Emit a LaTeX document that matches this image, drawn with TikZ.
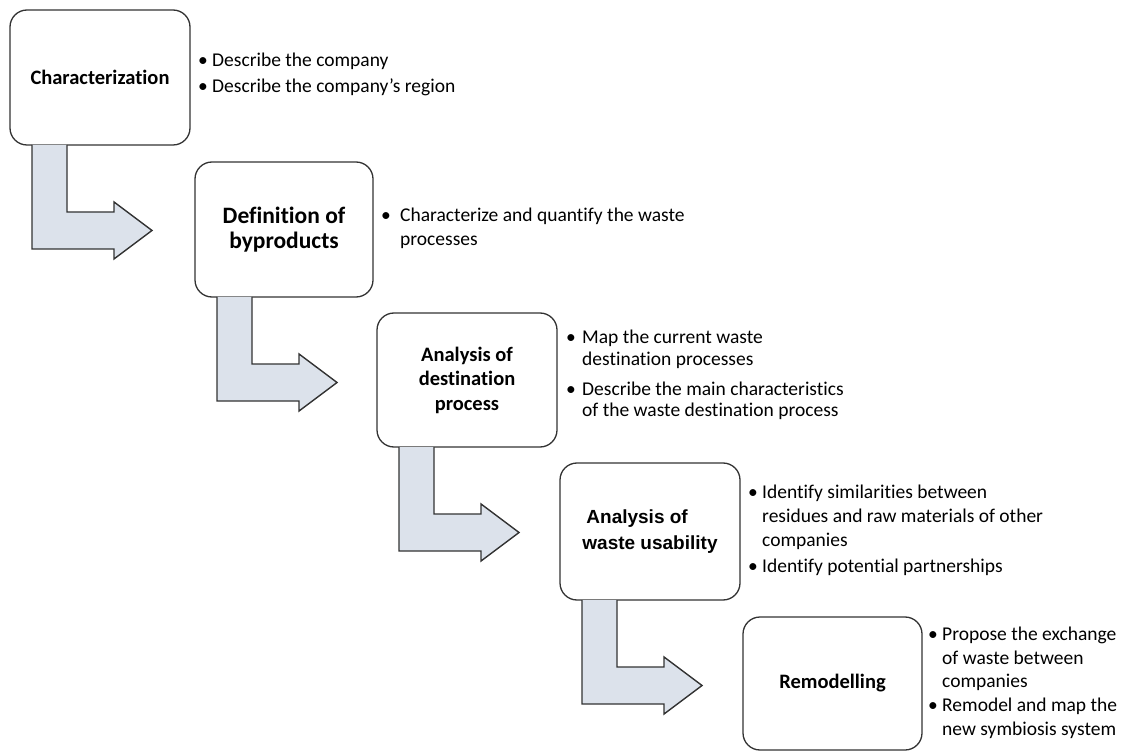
\documentclass[tikz,border=0pt]{standalone}
\usepackage{fontspec}
\setmainfont{Carlito}[Ligatures=NoCommon]
\newfontfamily\arialfont{Liberation Sans}
\usetikzlibrary{calc}

\definecolor{boxedge}{HTML}{333333}
\definecolor{arrowfill}{HTML}{DCE2EB}
\definecolor{arrowedge}{HTML}{333333}

% bullet mark set in a box of given width, and the matching indent
\newcommand\bul[1]{\makebox[#1][l]{\textbullet}}
\newcommand\cont[1]{\hspace*{#1}}

% bent block arrow leaving the bottom of a stage box
\newcommand\stagearrow[1]{%
  \draw[flow]
    ($(#1.south west)+(22,0)$) -- ($(#1.south west)+(22,104)$)
    -- ($(#1.south west)+(104,104)$) -- ($(#1.south west)+(104,114)$)
    -- ($(#1.south west)+(142,85.5)$) -- ($(#1.south west)+(104,57)$)
    -- ($(#1.south west)+(104,67)$) -- ($(#1.south west)+(57,67)$)
    -- ($(#1.south west)+(57,0)$);}

\begin{document}
\begin{tikzpicture}[x=1pt,y=-1pt,
  stage/.style={draw=boxedge, line width=1.3pt, rounded corners=17pt,
    fill=white, inner sep=0pt, outer sep=0pt, anchor=north west,
    align=center, font=\fontsize{20.5}{24.5}\selectfont\bfseries},
  flow/.style={fill=arrowfill, draw=arrowedge, line width=1.4pt,
    line join=miter},
  notes/.style={anchor=north west, inner sep=0pt, align=left,
    font=\fontsize{19.5}{23}\selectfont}]
\useasboundingbox[fill=white] (0,0) rectangle (1122,751);

% stage boxes
\node[stage, minimum width=180, minimum height=135] (b1) at (10,10)
  {Characterization};
\node[stage, minimum width=178, minimum height=135,
  font=\fontsize{23.5}{25}\selectfont\bfseries] (b2) at (195,162)
  {Definition of\\byproducts};
\node[stage, minimum width=180, minimum height=134] (b3) at (377,313)
  {Analysis of\\destination\\process};
\node[stage, minimum width=180, minimum height=137, align=left,
  font=\fontsize{19}{26}\selectfont\arialfont\bfseries] (b4) at (560,463)
  {\hspace*{4pt}Analysis of\\waste usability};
\node[stage, minimum width=179, minimum height=133] (b5) at (743,617)
  {\raisebox{-4pt}{Remodelling}};

% arrows between stages
\stagearrow{b1}
\stagearrow{b2}
\stagearrow{b3}
\stagearrow{b4}

% task lists beside each stage
\node[notes] (n1) at (198,50)
  {\strut\bul{14pt}Describe the company\\[3pt]
   \bul{14pt}Describe the company’s region};
\node[notes] (n2) at (381,205)
  {\strut\bul{19pt}Characterize and quantify the waste\\[1pt]
   \cont{19pt}processes};
\node[notes] (n3) at (566,327)
  {\strut\bul{16pt}Map the current waste\\[-1pt]
   \cont{16pt}destination processes\\[7pt]
   \bul{16pt}Describe the main characteristics\\[-2pt]
   \cont{16pt}of the waste destination process};
\node[notes] (n4) at (748,482)
  {\strut\bul{14pt}Identify similarities between\\[1pt]
   \cont{14pt}residues and raw materials of other\\[1pt]
   \cont{14pt}companies\\[3pt]
   \bul{14pt}Identify potential partnerships};
\node[notes] (n5) at (928,624)
  {\strut\bul{14pt}Propose the exchange\\[1pt]
   \cont{14pt}of waste between\\
   \cont{14pt}companies\\[1pt]
   \bul{14pt}Remodel and map the\\[1pt]
   \cont{14pt}new symbiosis system};
\end{tikzpicture}
\end{document}
